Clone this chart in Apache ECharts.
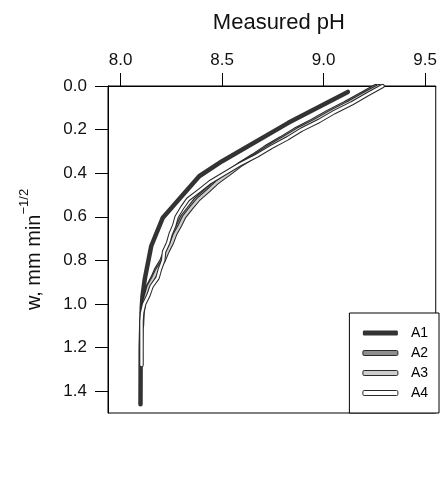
<!DOCTYPE html>
<html>
<head>
<meta charset="utf-8">
<script src="https://cdn.jsdelivr.net/npm/echarts@6/dist/echarts.min.js"></script>
<style>
  html, body { margin: 0; padding: 0; background: #fff; }
  #chart { width: 440px; height: 491px; }
</style>
</head>
<body>
<div id="chart"></div>
<script>
// Depth profiles: measured pH against w (mm min^-1/2)
const seriesNames = ['A1', 'A2', 'A3', 'A4'];

const wA1  = [0.027, 0.169, 0.345, 0.414, 0.604, 0.734, 0.886, 0.963, 1.02, 1.20, 1.46];
const phA1 = [9.119, 8.826, 8.500, 8.387, 8.208, 8.151, 8.119, 8.108, 8.104, 8.099, 8.098];

const wA2  = [0.00, 0.04, 0.08, 0.12, 0.16, 0.20, 0.24, 0.28, 0.32, 0.36, 0.40, 0.44, 0.48, 0.52,
              0.56, 0.60, 0.64, 0.68, 0.72, 0.76, 0.80, 0.84, 0.88, 0.92, 0.96, 1.00, 1.04];
const phA2 = [9.257, 9.180, 9.102, 9.018, 8.942, 8.860, 8.790, 8.716, 8.652, 8.583, 8.524, 8.466, 8.420, 8.370,
              8.337, 8.303, 8.282, 8.258, 8.242, 8.220, 8.202, 8.176, 8.157, 8.135, 8.123, 8.112, 8.106];

const wA3  = [0.00, 0.04, 0.08, 0.12, 0.16, 0.20, 0.24, 0.28, 0.32, 0.36, 0.40, 0.44, 0.48, 0.52,
              0.56, 0.60, 0.64, 0.68, 0.72, 0.76, 0.80, 0.84, 0.88, 0.92, 0.96, 1.00, 1.04, 1.10];
const phA3 = [9.273, 9.193, 9.117, 9.033, 8.957, 8.873, 8.802, 8.728, 8.662, 8.593, 8.537, 8.478, 8.432, 8.383,
              8.347, 8.313, 8.292, 8.268, 8.252, 8.230, 8.212, 8.183, 8.162, 8.138, 8.126, 8.114, 8.108, 8.105];

const wA4  = [0.00, 0.04, 0.08, 0.12, 0.16, 0.20, 0.24, 0.28, 0.32, 0.36, 0.40, 0.44, 0.48, 0.52,
              0.56, 0.60, 0.64, 0.68, 0.72, 0.76, 0.80, 0.84, 0.88, 0.92, 0.96, 1.00, 1.04, 1.08, 1.28];
const phA4 = [9.290, 9.212, 9.138, 9.052, 8.978, 8.892, 8.822, 8.742, 8.670, 8.586, 8.514, 8.442, 8.388, 8.332,
              8.302, 8.276, 8.264, 8.246, 8.234, 8.214, 8.210, 8.194, 8.182, 8.152, 8.137, 8.116, 8.106, 8.103, 8.103];

const xTicks = [8.0, 8.5, 9.0, 9.5];
const yTicks = [0.0, 0.2, 0.4, 0.6, 0.8, 1.0, 1.2, 1.4];

const pairs = (ph, w) => w.map((v, i) => [ph[i], v]);

const fillColors = { A1: '#333333', A2: '#8e8e8e', A3: '#cdcdcd', A4: '#ffffff' };
const edge = '#2a2a2a';

function solid(name, data) {
  return {
    type: 'line', name, data, symbol: 'none', silent: true,
    lineStyle: { color: fillColors[name], width: 4.5, cap: 'round', join: 'round' }
  };
}
// outlined line: dark wide stroke underneath, coloured narrow stroke on top
function outlined(name, data) {
  return [
    { type: 'line', name, data, symbol: 'none', silent: true,
      lineStyle: { color: edge, width: 4.5, cap: 'round', join: 'round' } },
    { type: 'line', name, data, symbol: 'none', silent: true,
      lineStyle: { color: fillColors[name], width: 2.4, cap: 'round', join: 'round' } }
  ];
}

const font = 'Liberation Sans, Arial, Helvetica, sans-serif';
const chart = echarts.init(document.getElementById('chart'));

chart.setOption({
  animation: false,
  backgroundColor: '#fff',
  grid: { left: 108, top: 86, right: 1, bottom: 78, show: true, borderColor: '#000', borderWidth: 1, containLabel: false },
  xAxis: {
    type: 'value', position: 'top', min: 7.938, max: 9.552,
    name: 'Measured pH', nameLocation: 'middle', nameGap: 52,
    nameTextStyle: { fontFamily: font, fontSize: 22, color: '#111', padding: [0, 0, 0, 14] },
    axisLine: { show: true, lineStyle: { color: '#000', width: 1 } },
    axisTick: { show: true, inside: false, length: 13, customValues: xTicks, lineStyle: { color: '#000', width: 1 } },
    axisLabel: { customValues: xTicks, margin: 17, fontFamily: font, fontSize: 17, color: '#111',
                 formatter: v => v.toFixed(1) },
    splitLine: { show: false }
  },
  yAxis: {
    type: 'value', inverse: true, min: 0, max: 1.5,
    name: '{a|w, mm min}{b|\u22121/2}', nameLocation: 'middle', nameGap: 64, nameRotate: 90,
    nameTextStyle: {
      fontFamily: font, color: '#111',
      rich: {
        a: { fontFamily: font, fontSize: 20, color: '#111', lineHeight: 26, verticalAlign: 'bottom' },
        b: { fontFamily: font, fontSize: 13, color: '#111', lineHeight: 14, verticalAlign: 'top' }
      }
    },
    axisLine: { show: true, lineStyle: { color: '#000', width: 1 } },
    axisTick: { show: true, inside: false, length: 13, customValues: yTicks, lineStyle: { color: '#000', width: 1 } },
    axisLabel: { customValues: yTicks, margin: 21, fontFamily: font, fontSize: 17, color: '#111',
                 formatter: v => v.toFixed(1) },
    splitLine: { show: false }
  },
  legend: {
    orient: 'vertical', right: 1, bottom: 78,
    padding: [13, 11, 13, 13], itemGap: 6,
    itemWidth: 35, itemHeight: 5,
    borderColor: '#000', borderWidth: 1, backgroundColor: '#fff',
    textStyle: { fontFamily: font, fontSize: 14, color: '#000', lineHeight: 14, padding: [0, 0, 0, 8] },
    data: seriesNames.map(n => ({
      name: n, icon: 'roundRect',
      itemStyle: n === 'A1'
        ? { color: fillColors[n], borderColor: fillColors[n], borderWidth: 0 }
        : { color: fillColors[n], borderColor: edge, borderWidth: 1 }
    })),
    selectedMode: false
  },
  series: [
    solid('A1', pairs(phA1, wA1)),
    ...outlined('A2', pairs(phA2, wA2)),
    ...outlined('A3', pairs(phA3, wA3)),
    ...outlined('A4', pairs(phA4, wA4))
  ]
});
</script>
</body>
</html>
